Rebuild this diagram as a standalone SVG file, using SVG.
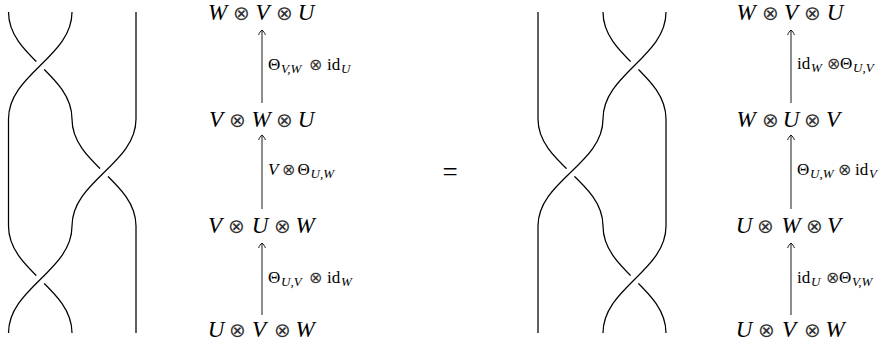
<svg xmlns="http://www.w3.org/2000/svg" width="886" height="347" viewBox="0 0 886 347">
<style>
.bg{fill:#fff}
.str{fill:none;stroke:#000;stroke-width:1.25;stroke-linecap:butt}
.halo{fill:none;stroke:#fff;stroke-width:11}
.arr{fill:none;stroke:#000;stroke-width:0.9}
.row{font-family:"Liberation Serif","DejaVu Serif",serif;font-size:23px;font-style:italic;fill:#000;text-anchor:middle}
.ot{font-family:"DejaVu Sans",sans-serif;font-style:normal;font-weight:200;font-size:20px;fill:#333}
.lab{font-family:"Liberation Serif","DejaVu Serif",serif;font-size:17px;fill:#000}
.it{font-style:italic}
.sub{font-style:italic;font-size:13px}
.ol{font-family:"DejaVu Sans",sans-serif;font-weight:200;font-size:16px;fill:#333}
.eq{font-family:"Liberation Serif",serif;font-size:27px;fill:#000;text-anchor:middle}
</style>
<defs>
<marker id="tip" markerUnits="userSpaceOnUse" orient="auto" markerWidth="10" markerHeight="10" refX="0" refY="0" viewBox="-6 -5 8 10" overflow="visible">
<path d="M -5 -3.4 C -3 -2.8 -1 -1.2 0 0 C -1 1.2 -3 2.8 -5 3.4" fill="none" stroke="#000" stroke-width="0.9"/>
</marker>
</defs>
<rect class="bg" x="0" y="0" width="886" height="347"/>

<g id="braid-left">
<path class="str" d="M 136 12 L 136 119 M 8.5 119 L 8.5 226 M 136 226 L 136 333"/>
<path class="str" d="M 8.5 12 C 8.5 57 72 74 72 119"/>
<path class="halo" d="M 72 12 C 72 57 8.5 74 8.5 119"/>
<path class="str" d="M 72 12 C 72 57 8.5 74 8.5 119"/>
<path class="str" d="M 72 119 C 72 164 136 181 136 226"/>
<path class="halo" d="M 136 119 C 136 164 72 181 72 226"/>
<path class="str" d="M 136 119 C 136 164 72 181 72 226"/>
<path class="str" d="M 8.5 226 C 8.5 271 72 288 72 333"/>
<path class="halo" d="M 72 226 C 72 271 8.5 288 8.5 333"/>
<path class="str" d="M 72 226 C 72 271 8.5 288 8.5 333"/>
</g>

<g id="braid-right">
<path class="str" d="M 538 12 L 538 119 M 666 119 L 666 226 M 538 226 L 538 333"/>
<path class="str" d="M 603 12 C 603 57 666 74 666 119"/>
<path class="halo" d="M 666 12 C 666 57 603 74 603 119"/>
<path class="str" d="M 666 12 C 666 57 603 74 603 119"/>
<path class="str" d="M 538 119 C 538 164 603 181 603 226"/>
<path class="halo" d="M 603 119 C 603 164 538 181 538 226"/>
<path class="str" d="M 603 119 C 603 164 538 181 538 226"/>
<path class="str" d="M 603 226 C 603 271 666 288 666 333"/>
<path class="halo" d="M 666 226 C 666 271 603 288 603 333"/>
<path class="str" d="M 666 226 C 666 271 603 288 603 333"/>
</g>

<g id="equals"><text class="eq" x="450" y="181">=</text></g>

<g id="connectors">
<line class="arr" x1="262" y1="103" x2="262" y2="30" marker-end="url(#tip)"/>
<line class="arr" x1="262" y1="209" x2="262" y2="135" marker-end="url(#tip)"/>
<line class="arr" x1="262" y1="315" x2="262" y2="243" marker-end="url(#tip)"/>
<line class="arr" x1="791" y1="103" x2="791" y2="30" marker-end="url(#tip)"/>
<line class="arr" x1="791" y1="209" x2="791" y2="135" marker-end="url(#tip)"/>
<line class="arr" x1="791" y1="315" x2="791" y2="243" marker-end="url(#tip)"/>
<text class="lab" y="70"><tspan x="268">Θ</tspan><tspan class="sub" x="281" y="73">V,W</tspan><tspan class="ol" x="309" y="70">⊗</tspan><tspan x="327" y="70">id</tspan><tspan class="sub" x="341" y="73">U</tspan></text>
<text class="lab" y="175"><tspan class="it" x="268">V</tspan><tspan class="ol" x="282">⊗</tspan><tspan x="297.5">Θ</tspan><tspan class="sub" x="310.5" y="178">U,W</tspan></text>
<text class="lab" y="283"><tspan x="268">Θ</tspan><tspan class="sub" x="281" y="286">U,V</tspan><tspan class="ol" x="309" y="283">⊗</tspan><tspan x="327" y="283">id</tspan><tspan class="sub" x="341" y="286">W</tspan></text>
<text class="lab" y="69"><tspan x="797">id</tspan><tspan class="sub" x="811" y="72">W</tspan><tspan class="ol" x="827" y="69">⊗</tspan><tspan x="840" y="69">Θ</tspan><tspan class="sub" x="853" y="72">U,V</tspan></text>
<text class="lab" y="175"><tspan x="797">Θ</tspan><tspan class="sub" x="810" y="178">U,W</tspan><tspan class="ol" x="837.5" y="175">⊗</tspan><tspan x="855" y="175">id</tspan><tspan class="sub" x="869" y="178">V</tspan></text>
<text class="lab" y="283"><tspan x="797">id</tspan><tspan class="sub" x="811" y="286">U</tspan><tspan class="ol" x="826" y="283">⊗</tspan><tspan x="839" y="283">Θ</tspan><tspan class="sub" x="852" y="286">V,W</tspan></text>
</g>

<g id="L-WVU"><text class="row" y="20"><tspan x="217.5">W</tspan><tspan class="ot" x="241.5">⊗</tspan><tspan x="262.5">V</tspan><tspan class="ot" x="284">⊗</tspan><tspan x="306">U</tspan></text></g>
<g id="L-VWU"><text class="row" y="127"><tspan x="216">V</tspan><tspan class="ot" x="237">⊗</tspan><tspan x="261">W</tspan><tspan class="ot" x="284">⊗</tspan><tspan x="306">U</tspan></text></g>
<g id="L-VUW"><text class="row" y="233"><tspan x="215">V</tspan><tspan class="ot" x="236">⊗</tspan><tspan x="260">U</tspan><tspan class="ot" x="282">⊗</tspan><tspan x="305">W</tspan></text></g>
<g id="L-UVW"><text class="row" y="337"><tspan x="216">U</tspan><tspan class="ot" x="237">⊗</tspan><tspan x="259">V</tspan><tspan class="ot" x="282">⊗</tspan><tspan x="305">W</tspan></text></g>

<g id="R-WVU"><text class="row" y="20"><tspan x="746">W</tspan><tspan class="ot" x="770">⊗</tspan><tspan x="791">V</tspan><tspan class="ot" x="812.5">⊗</tspan><tspan x="835">U</tspan></text></g>
<g id="R-WUV"><text class="row" y="127"><tspan x="746">W</tspan><tspan class="ot" x="770">⊗</tspan><tspan x="791">U</tspan><tspan class="ot" x="812">⊗</tspan><tspan x="833">V</tspan></text></g>
<g id="R-UWV"><text class="row" y="233"><tspan x="744">U</tspan><tspan class="ot" x="765.5">⊗</tspan><tspan x="791">W</tspan><tspan class="ot" x="814">⊗</tspan><tspan x="834">V</tspan></text></g>
<g id="R-UVW"><text class="row" y="337"><tspan x="744">U</tspan><tspan class="ot" x="766.5">⊗</tspan><tspan x="789">V</tspan><tspan class="ot" x="812">⊗</tspan><tspan x="835">W</tspan></text></g>
</svg>
